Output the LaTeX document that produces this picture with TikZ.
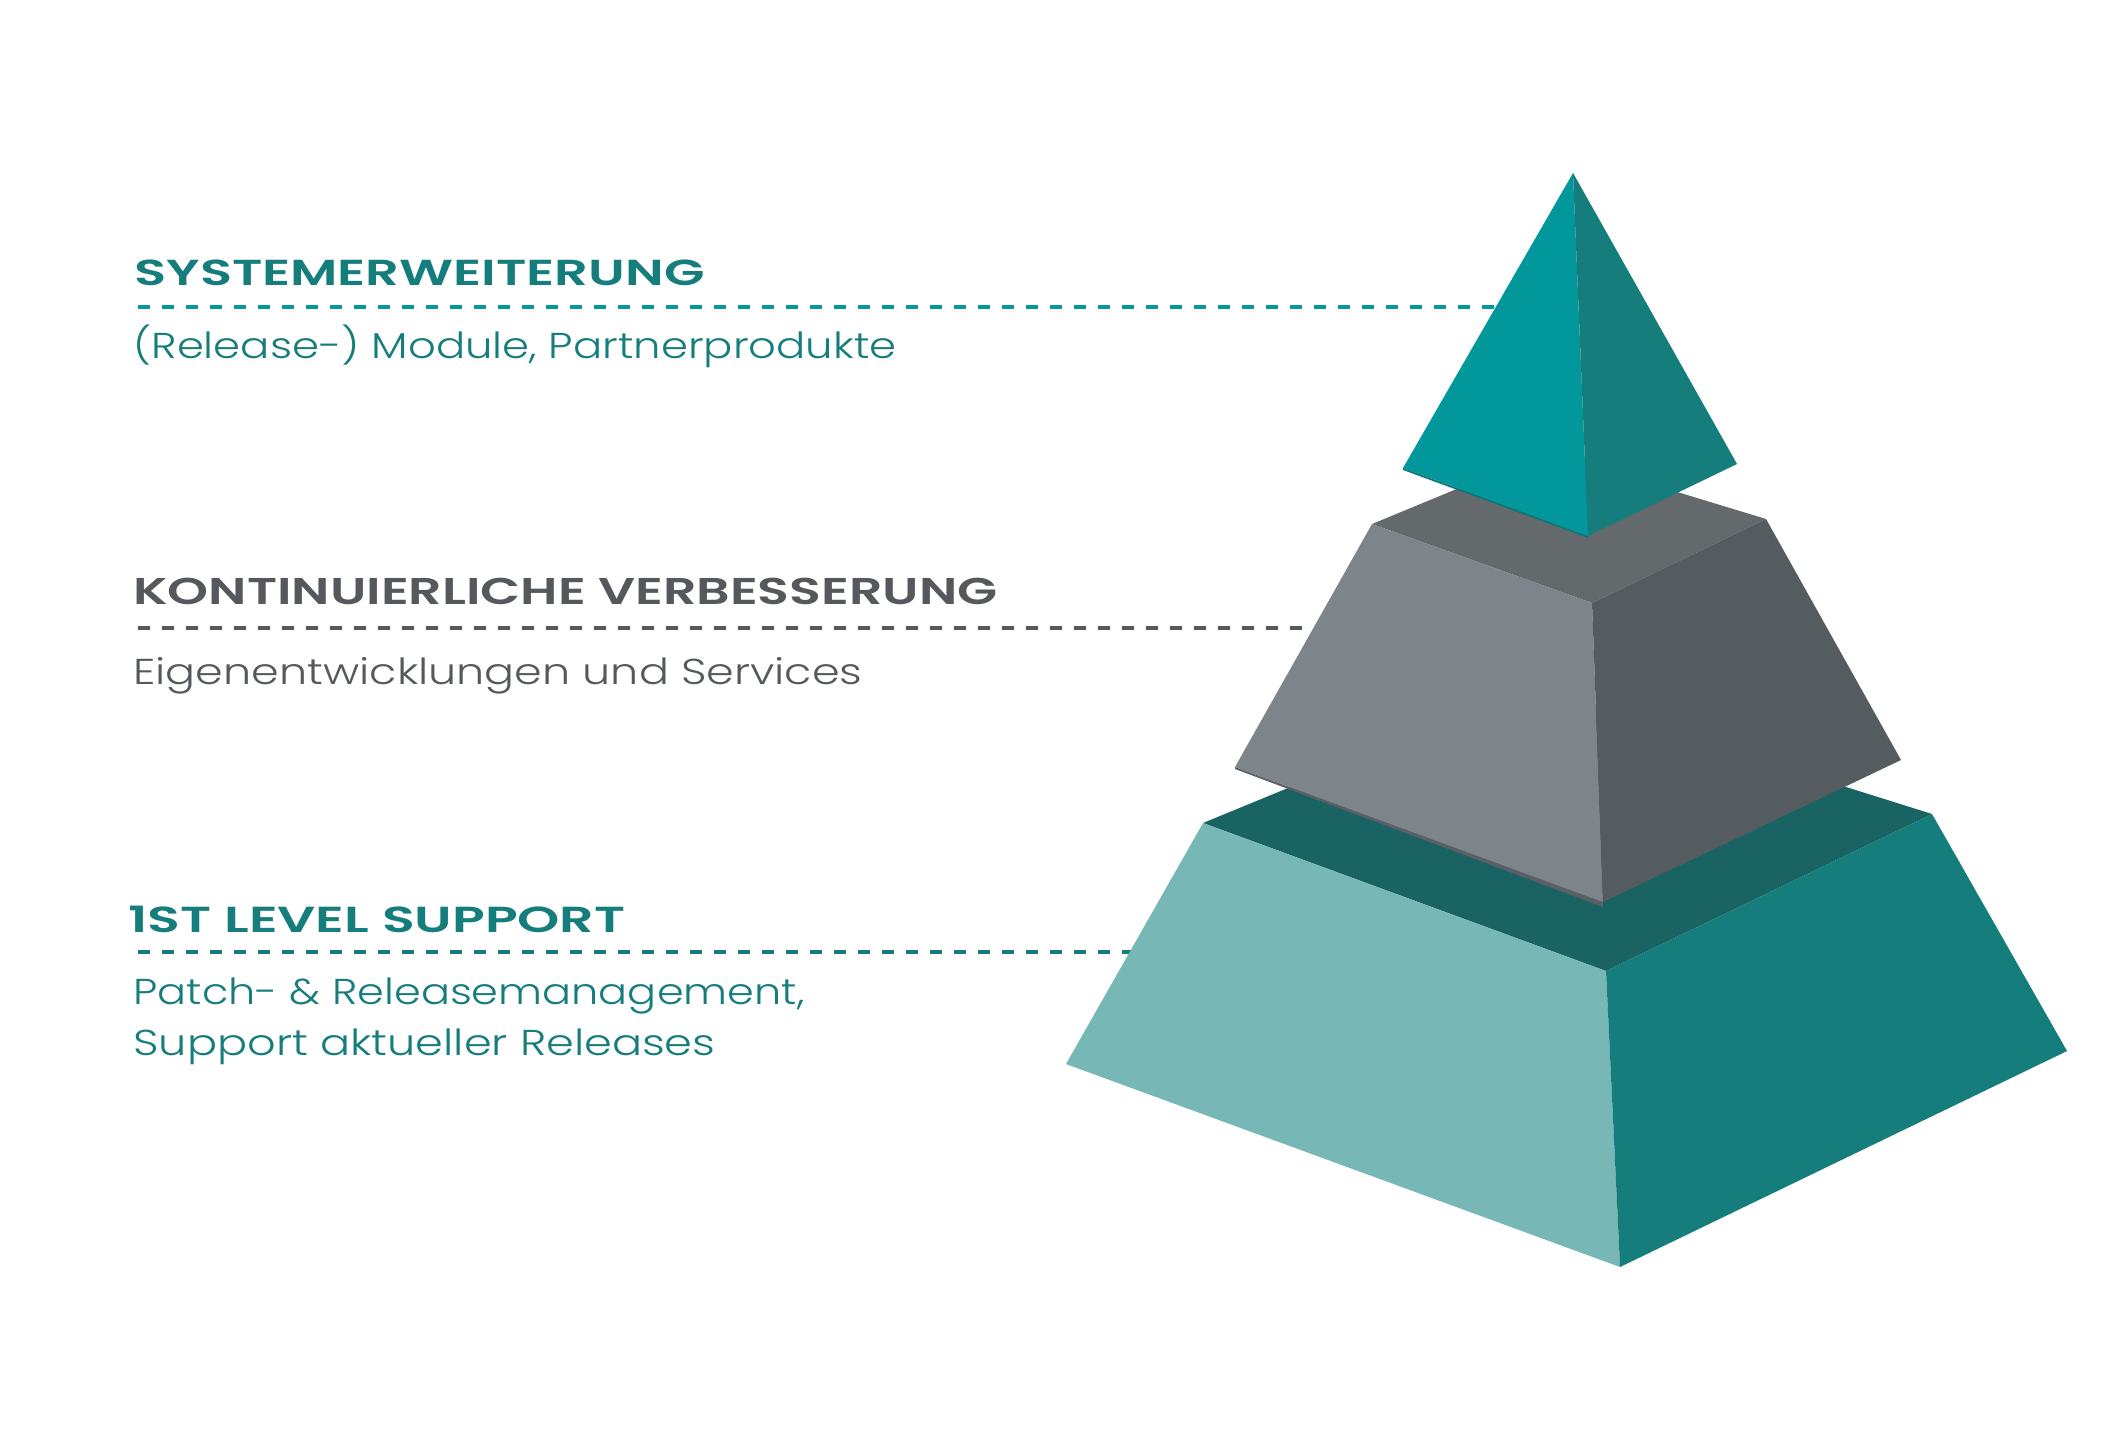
\documentclass[tikz,border=0pt]{standalone}
\usepackage{fontspec}
\usepackage{graphicx}
\setmainfont{Poppins}
\newfontfamily\headfont{Poppins}[UprightFont={* SemiBold}]
\newfontfamily\bodyfont{Poppins}[UprightFont={* Light}]
\definecolor{tealA}{HTML}{02979A}
\definecolor{tealB}{HTML}{157D7B}
\definecolor{tealC}{HTML}{1A6363}
\definecolor{tealD}{HTML}{77B8B7}
\definecolor{tealE}{HTML}{127575}
\definecolor{grayA}{HTML}{7D848A}
\definecolor{grayB}{HTML}{545C5F}
\definecolor{grayC}{HTML}{646A6C}
\definecolor{grayD}{HTML}{5C6066}
\definecolor{txtgray}{HTML}{55595D}
\newcommand\fitw[2]{\resizebox{#1}{\height}{#2}}
\newcommand\fitwh[3]{\resizebox{#1}{#2}{#3}}
\begin{document}
\begin{tikzpicture}[x=0.5pt,y=-0.5pt,
  heading/.style={anchor=base west,inner sep=0pt,font=\headfont\fontsize{18}{18}\selectfont},
  body/.style={anchor=base west,inner sep=0pt,font=\bodyfont\fontsize{18}{18}\selectfont},
  leader/.style={line width=2.35pt,dash pattern=on 6pt off 6pt}]
\useasboundingbox (0,0) rectangle (2128,1440);
\fill[white] (0,0) rectangle (2128,1440);
% vertices
\coordinate (A) at (1573,173);
\coordinate (B) at (1403,468);
\coordinate (C) at (1588,536);
\coordinate (D) at (1737,464);
\coordinate (E) at (1372,524);
\coordinate (F) at (1766,519);
\coordinate (G) at (1592,603);
\coordinate (Q) at (1546,452);
\coordinate (H) at (1235,767);
\coordinate (I) at (1603,902);
\coordinate (J) at (1901,760);
\coordinate (K) at (1203,823);
\coordinate (L) at (1932,814);
\coordinate (M) at (1606,971);
\coordinate (R) at (1531,688);
\coordinate (N) at (1066,1064);
\coordinate (O) at (1620,1267);
\coordinate (P) at (2067,1051);
% leader lines
\coordinate (l1s) at (138,307); \coordinate (l1e) at (1540,307);
\coordinate (l2s) at (138,628); \coordinate (l2e) at (1400,628);
\coordinate (l3s) at (138,952); \coordinate (l3e) at (1250,952);
\draw[leader,tealA] (l1s) -- (l1e);
\draw[leader,txtgray] (l2s) -- (l2e);
\draw[leader,tealB] (l3s) -- (l3e);
% texts
\node[heading,text=tealB] (h1) at (134,285) {\fitwh{285pt}{12.8pt}{SYSTEMERWEITERUNG}};
\node[body,text=tealB] (b1) at (133,358) {\fitw{381.5pt}{(Release-) Module, Partnerprodukte}};
\node[heading,text=txtgray] (h2) at (133,604) {\fitwh{432pt}{13.2pt}{KONTINUIERLICHE VERBESSERUNG}};
\node[body,text=txtgray] (b2) at (133,684) {\fitw{364.5pt}{Eigenentwicklungen und Services}};
\node[heading,text=tealB] (h3) at (128,932) {\fitwh{248.5pt}{13.2pt}{1ST LEVEL SUPPORT}};
\node[body,text=tealB] (b3) at (133,1004) {\fitw{335.5pt}{Patch- \& Releasemanagement,}};
\node[body,text=tealB] (b4) at (133,1055) {\fitw{291pt}{Support aktueller Releases}};
% bottom block
\fill[tealC] (K) -- (R) -- (L) -- (M) -- cycle;
\fill[tealD] (K) -- (M) -- (O) -- (N) -- cycle;
\fill[tealB] (M) -- (L) -- (P) -- (O) -- cycle;
% middle block
\fill[grayD] (H) -- (I) -- ([yshift=-2.5pt]I) -- ([yshift=-1pt]H) -- cycle;
\fill[grayC] (E) -- (Q) -- (F) -- (G) -- cycle;
\fill[grayA] (E) -- (G) -- (I) -- (H) -- cycle;
\fill[grayB] (G) -- (F) -- (J) -- (I) -- cycle;
% top tetrahedron
\fill[tealE] (B) -- (C) -- ([yshift=-1pt]C) -- ([yshift=-1pt]B) -- cycle;
\fill[tealA] (A) -- (B) -- (C) -- cycle;
\fill[tealB] (A) -- (C) -- (D) -- cycle;
\end{tikzpicture}
\end{document}
